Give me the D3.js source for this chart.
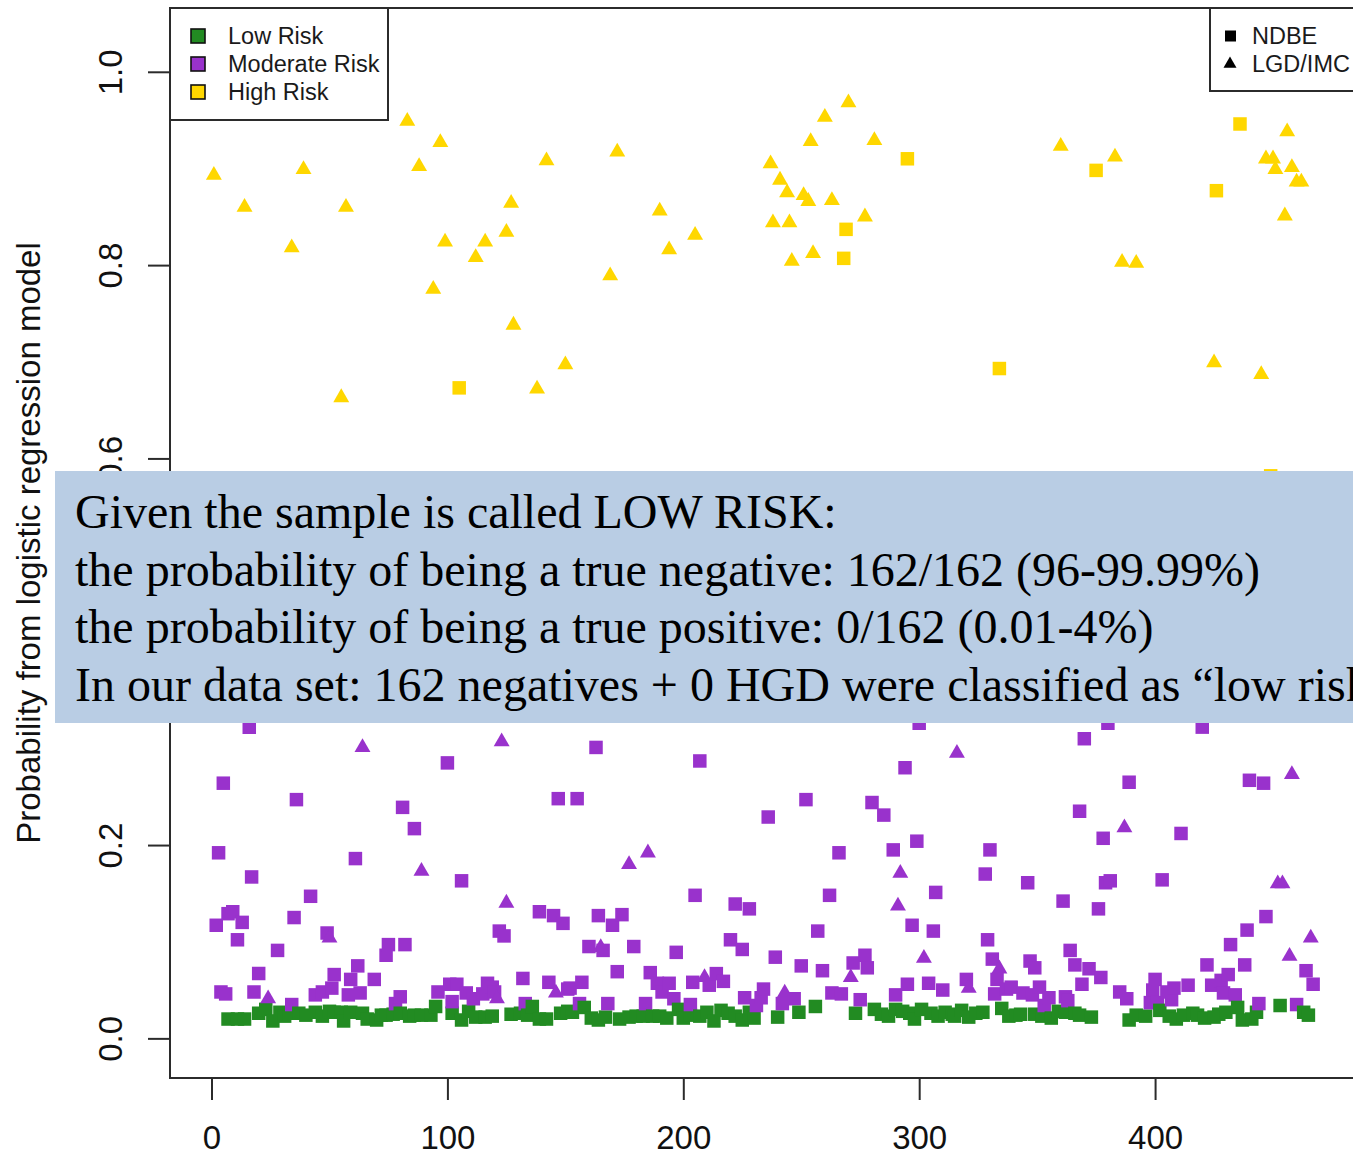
<!DOCTYPE html>
<html>
<head>
<meta charset="utf-8">
<script src="https://cdn.jsdelivr.net/npm/d3@7/dist/d3.min.js"></script>
<style>
  html, body { margin: 0; padding: 0; background: #fff; overflow: hidden; }
  svg { display: block; }
</style>
</head>
<body>
<svg id="chart" width="1353" height="1155"></svg>
<script>
// Predicted probabilities by sample index, grouped by risk class and histology.
// Each entry: [sample index, probability]
const lowRiskNdbe = [
  [7,0.020],[11,0.020],[14,0.020],[20,0.026],[23,0.030],[26,0.018],[29,0.027],[31,0.023],[33,0.026],
  [37,0.026],[40,0.024],[44,0.027],[47,0.023],[50,0.028],[52,0.027],[55,0.027],[56,0.018],[59,0.027],
  [64,0.026],[66,0.020],[70,0.019],[72,0.024],[74,0.024],[77,0.025],[80,0.026],[84,0.023],[86,0.024],
  [89,0.024],[93,0.024],[95,0.033],[102,0.026],[106,0.019],[109,0.028],[112,0.022],[116,0.022],[119,0.023],
  [127,0.025],[131,0.026],[134,0.024],[136,0.033],[139,0.020],[142,0.020],[148,0.026],[151,0.028],[153,0.027],
  [158,0.032],[161,0.021],[164,0.019],[167,0.022],[173,0.020],[177,0.022],[180,0.023],[183,0.023],[187,0.023],
  [190,0.023],[193,0.021],[198,0.030],[200,0.021],[203,0.024],[207,0.023],[210,0.027],[213,0.018],[216,0.029],
  [219,0.026],[222,0.023],[225,0.019],[228,0.027],[230,0.021],[240,0.022],[249,0.027],[256,0.033],[273,0.026],
  [281,0.030],[284,0.025],[287,0.023],[290,0.030],[293,0.028],[296,0.026],[298,0.020],[301,0.030],[305,0.026],
  [308,0.023],[311,0.027],[314,0.025],[315,0.023],[318,0.029],[321,0.022],[324,0.026],[327,0.027],[335,0.031],
  [338,0.023],[341,0.024],[343,0.025],[349,0.025],[352,0.023],[356,0.021],[359,0.028],[362,0.027],[366,0.026],
  [368,0.024],[373,0.022],[389,0.019],[392,0.024],[396,0.023],[402,0.029],[406,0.023],[409,0.020],[412,0.024],
  [416,0.026],[418,0.024],[421,0.021],[425,0.022],[427,0.025],[430,0.027],[435,0.032],[437,0.019],[441,0.020],
  [443,0.027],[453,0.034],[463,0.027],[465,0.024]
];

const moderateRiskNdbe = [
  [16,0.322],[5,0.264],[36,0.247],[100,0.285],[81,0.239],[86,0.217],[147,0.248],[3,0.192],[61,0.186],
  [17,0.167],[106,0.163],[42,0.147],[9,0.131],[7,0.129],[13,0.120],[2,0.117],[35,0.125],[11,0.102],
  [49,0.109],[124,0.106],[122,0.111],[28,0.091],[75,0.097],[82,0.097],[74,0.086],[139,0.131],[145,0.127],
  [149,0.119],[20,0.067],[62,0.075],[59,0.061],[52,0.066],[69,0.061],[132,0.062],[143,0.058],[4,0.048],
  [6,0.046],[18,0.048],[51,0.052],[47,0.048],[44,0.045],[58,0.045],[63,0.047],[34,0.035],[80,0.043],
  [78,0.036],[101,0.056],[104,0.056],[96,0.048],[102,0.038],[108,0.047],[111,0.041],[115,0.046],[117,0.057],
  [120,0.048],[119,0.053],[133,0.036],[151,0.051],
  [163,0.301],[207,0.287],[300,0.326],[294,0.280],[155,0.248],[252,0.247],[236,0.229],[280,0.244],[285,0.231],
  [299,0.204],[266,0.192],[289,0.195],[205,0.148],[222,0.139],[228,0.134],[262,0.148],[307,0.151],[164,0.127],
  [174,0.128],[170,0.117],[257,0.111],[297,0.117],[306,0.111],[160,0.095],[166,0.091],[179,0.095],[197,0.089],
  [220,0.102],[225,0.092],[239,0.084],[172,0.069],[250,0.075],[259,0.070],[272,0.078],[277,0.086],[278,0.073],
  [186,0.068],[189,0.057],[194,0.057],[204,0.058],[211,0.055],[214,0.067],[217,0.059],[152,0.052],[157,0.058],
  [191,0.048],[196,0.041],[234,0.051],[233,0.042],[295,0.056],[290,0.045],[304,0.057],[310,0.050],[263,0.047],
  [267,0.046],[226,0.042],[156,0.036],[168,0.036],[184,0.036],[203,0.035],[231,0.034],[242,0.036],[247,0.041],
  [275,0.040],
  [380,0.326],[420,0.322],[370,0.310],[389,0.265],[368,0.235],[378,0.207],[411,0.212],[440,0.267],[446,0.264],
  [330,0.195],[328,0.170],[346,0.161],[379,0.161],[381,0.163],[403,0.164],[361,0.142],[376,0.134],[447,0.126],
  [439,0.112],[432,0.097],[329,0.102],[364,0.091],[331,0.082],[347,0.080],[349,0.073],[366,0.076],[372,0.072],
  [377,0.063],[422,0.076],[438,0.076],[464,0.070],[467,0.056],[320,0.061],[333,0.061],[339,0.053],[337,0.051],
  [351,0.053],[344,0.047],[348,0.045],[355,0.042],[369,0.056],[362,0.043],[363,0.039],[385,0.048],[388,0.041],
  [400,0.061],[399,0.050],[398,0.037],[401,0.037],[405,0.048],[408,0.052],[414,0.055],[407,0.040],[424,0.055],
  [428,0.060],[431,0.066],[429,0.047],[434,0.045],[332,0.046],[353,0.034],[444,0.036],[460,0.035]
];

const moderateRiskLgd = [
  [64,0.301],[123,0.307],[89,0.173],[125,0.140],[50,0.104],[24,0.041],[121,0.041],[146,0.047],
  [177,0.180],[185,0.192],[316,0.295],[292,0.171],[291,0.137],[302,0.083],[271,0.063],[209,0.063],
  [165,0.094],[243,0.047],
  [387,0.218],[452,0.160],[454,0.160],[458,0.273],[466,0.104],[457,0.085],[334,0.072],[321,0.052]
];

const highRiskNdbe = [
  [105,0.673],[269,0.837],[268,0.807],[295,0.910],[334,0.693],[375,0.898],[426,0.877],[436,0.946],[449,0.582]
];

const highRiskLgd = [
  [1,0.893],[14,0.860],[34,0.818],[39,0.899],[55,0.663],[57,0.860],[83,0.949],[88,0.902],[94,0.775],
  [97,0.927],[99,0.824],[112,0.808],[116,0.824],[125,0.834],[127,0.864],[128,0.738],[138,0.672],[142,0.908],
  [150,0.697],[169,0.789],[172,0.917],[190,0.856],[194,0.816],[205,0.831],
  [237,0.905],[241,0.888],[244,0.875],[251,0.872],[253,0.866],[263,0.867],[238,0.844],[245,0.844],[254,0.928],
  [260,0.953],[270,0.968],[281,0.929],[277,0.850],[255,0.812],[246,0.804],
  [360,0.923],[383,0.912],[386,0.803],[392,0.802],[425,0.699],[445,0.687],[447,0.910],[450,0.910],[451,0.899],
  [456,0.938],[458,0.901],[460,0.886],[462,0.886],[455,0.851]
];

const xTicks = [0, 100, 200, 300, 400];
const yTicks = [0, 0.2, 0.4, 0.6, 0.8, 1.0];
const yTickLabels = ["0.0", "0.2", "0.4", "0.6", "0.8", "1.0"];

const riskLegend = ["Low Risk", "Moderate Risk", "High Risk"];
const histologyLegend = ["NDBE", "LGD/IMC"];
const yTitle = "Probability from logistic regression model";

const noteLines = [
  "Given the sample is called LOW RISK:",
  "the probability of being a true negative: 162/162 (96-99.99%)",
  "the probability of being a true positive: 0/162 (0.01-4%)",
  "In our data set: 162 negatives + 0 HGD were classified as \u201clow risk\u201d"
];

// ---- layout ----
const colors = { low: "#228B22", moderate: "#9932CC", high: "#FFD700" };
const plot = { left: 170, top: 8, right: 1357, bottom: 1078 };
const sansFont = "'Liberation Sans', Arial, sans-serif";
const serifFont = "'Liberation Serif', 'Times New Roman', serif";

const svg = d3.select("#chart");

const x = d3.scaleLinear().domain([-17.6, 485.6]).range([plot.left, plot.right]);
const y = d3.scaleLinear().domain([-0.041, 1.066]).range([plot.bottom, plot.top]);

// ---- points ----
const points = [];
lowRiskNdbe.forEach(d => points.push({ i: d[0], v: d[1], c: colors.low, shape: "square" }));
moderateRiskNdbe.forEach(d => points.push({ i: d[0], v: d[1], c: colors.moderate, shape: "square" }));
moderateRiskLgd.forEach(d => points.push({ i: d[0], v: d[1], c: colors.moderate, shape: "triangle" }));
highRiskNdbe.forEach(d => points.push({ i: d[0], v: d[1], c: colors.high, shape: "square" }));
highRiskLgd.forEach(d => points.push({ i: d[0], v: d[1], c: colors.high, shape: "triangle" }));
points.sort((a, b) => a.i - b.i);

const sq = 13.5;
const triR = 9.2, triXc = triR * Math.sqrt(3) / 2, triYc = triR / 2;
function triPath(cx, cy, r, xc, yc) {
  return `M${cx},${cy - r}L${cx + xc},${cy + yc}L${cx - xc},${cy + yc}Z`;
}

const gPts = svg.append("g").attr("class", "points");
gPts.selectAll("path.pt")
  .data(points)
  .join("path")
  .attr("class", "pt")
  .attr("fill", d => d.c)
  .attr("d", d => {
    const cx = x(d.i), cy = y(d.v);
    if (d.shape === "square") {
      const h = sq / 2;
      return `M${cx - h},${cy - h}h${sq}v${sq}h${-sq}Z`;
    }
    return triPath(cx, cy, triR, triXc, triYc);
  });

// ---- plot frame ----
svg.append("rect")
  .attr("x", plot.left).attr("y", plot.top)
  .attr("width", plot.right - plot.left).attr("height", plot.bottom - plot.top)
  .attr("fill", "none").attr("stroke", "#2b2b2b").attr("stroke-width", 2);

// ---- axes ----
const xAxis = d3.axisBottom(x).tickValues(xTicks).tickSize(22).tickFormat(d3.format("d"));
const gx = svg.append("g").attr("transform", `translate(0,${plot.bottom})`).call(xAxis);
gx.select(".domain").attr("d", `M${x(0)},0H${x(400)}`).attr("stroke", "#2b2b2b").attr("stroke-width", 2);
gx.selectAll(".tick line").attr("stroke", "#2b2b2b").attr("stroke-width", 2);
gx.selectAll(".tick text")
  .attr("font-family", sansFont).attr("font-size", 33).attr("fill", "#111")
  .attr("dy", null)
  .attr("y", 71);

const yAxis = d3.axisLeft(y).tickValues(yTicks).tickSize(22).tickFormat((d, i) => yTickLabels[i]);
const gy = svg.append("g").attr("transform", `translate(${plot.left},0)`).call(yAxis);
gy.select(".domain").remove();
gy.selectAll(".tick line").attr("stroke", "#2b2b2b").attr("stroke-width", 2);
gy.selectAll(".tick text")
  .attr("font-family", sansFont).attr("font-size", 33).attr("fill", "#111")
  .attr("x", null).attr("dy", null)
  .attr("text-anchor", "middle")
  .attr("transform", "translate(-48,0) rotate(-90)");

// axis title
svg.append("text")
  .attr("transform", `translate(40,${(plot.top + plot.bottom) / 2}) rotate(-90)`)
  .attr("text-anchor", "middle")
  .attr("font-family", sansFont).attr("font-size", 33).attr("fill", "#111")
  .text(yTitle);

// ---- legends ----
const legL = svg.append("g");
legL.append("rect").attr("x", plot.left).attr("y", plot.top).attr("width", 218).attr("height", 112)
  .attr("fill", "#fff").attr("stroke", "#2b2b2b").attr("stroke-width", 2);
const riskColors = [colors.low, colors.moderate, colors.high];
riskLegend.forEach((label, k) => {
  const cy = 36 + k * 28;
  legL.append("rect").attr("x", 191).attr("y", cy - 7).attr("width", 14).attr("height", 14)
    .attr("fill", riskColors[k]).attr("stroke", "#111").attr("stroke-width", 1.6);
  legL.append("text").attr("x", 228).attr("y", cy + 8)
    .attr("font-family", sansFont).attr("font-size", 23.5).attr("fill", "#1a1a1a").text(label);
});

const legR = svg.append("g");
legR.append("rect").attr("x", 1210).attr("y", plot.top).attr("width", 150).attr("height", 83)
  .attr("fill", "#fff").attr("stroke", "#2b2b2b").attr("stroke-width", 2);
histologyLegend.forEach((label, k) => {
  const cy = 36 + k * 28;
  if (k === 0) {
    legR.append("rect").attr("x", 1225).attr("y", cy - 5.5).attr("width", 11).attr("height", 11).attr("fill", "#000");
  } else {
    legR.append("path").attr("d", triPath(1230, cy, 7.5, 7.5 * Math.sqrt(3) / 2, 3.75)).attr("fill", "#000");
  }
  legR.append("text").attr("x", 1252).attr("y", cy + 8)
    .attr("font-family", sansFont).attr("font-size", 23.5).attr("fill", "#1a1a1a").text(label);
});

// ---- annotation panel ----
const note = svg.append("g");
note.append("rect").attr("x", 55).attr("y", 471).attr("width", 1310).attr("height", 252).attr("fill", "#b9cde4");
noteLines.forEach((line, k) => {
  note.append("text").attr("x", 75).attr("y", 528 + k * 57.5)
    .attr("font-family", serifFont).attr("font-size", 48).attr("fill", "#000").text(line);
});
</script>
</body>
</html>
